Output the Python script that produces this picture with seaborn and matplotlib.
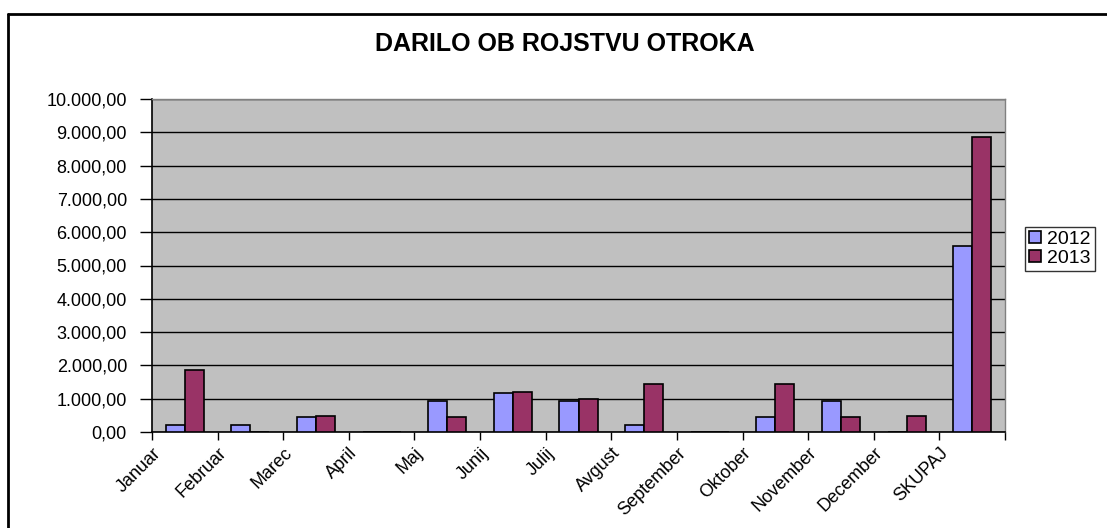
import numpy as np
import pandas as pd
import matplotlib
matplotlib.use("Agg")
import matplotlib.pyplot as plt
import seaborn as sns
from matplotlib.lines import Line2D
from matplotlib.patches import Patch
from matplotlib.ticker import FuncFormatter, MultipleLocator

categories = ["Januar", "Februar", "Marec", "April", "Maj", "Junij", "Julij",
              "Avgust", "September", "Oktober", "November", "December", "SKUPAJ"]
values_2012 = [210, 210, 450, 0, 940, 1170, 940, 210, 0, 450, 940, 0, 5590]
values_2013 = [1870, 0, 480, 0, 460, 1200, 980, 1440, 0, 1440, 460, 480, 8850]
series_names = ["2012", "2013"]
title_text = "DARILO OB ROJSTVU OTROKA"

df = pd.DataFrame({
    "kategorija": categories * 2,
    "vrednost": values_2012 + values_2013,
    "leto": [series_names[0]] * len(categories) + [series_names[1]] * len(categories),
})

sns.set_theme(style="white")
plt.rcParams["font.family"] = ["Liberation Sans", "DejaVu Sans"]
plt.rcParams["text.color"] = "black"
plt.rcParams["xtick.color"] = "black"
plt.rcParams["ytick.color"] = "black"
plt.rcParams["axes.labelcolor"] = "black"

colors = {"2012": "#9999FF", "2013": "#993366"}

fig = plt.figure(figsize=(11.07, 5.28), dpi=100)
fig.patch.set_facecolor("white")
ax = fig.add_axes([152 / 1107, 1 - 432 / 528, (1005 - 152) / 1107, (432 - 99) / 528])
ax.set_facecolor("#C0C0C0")

sns.barplot(data=df, x="kategorija", y="vrednost", hue="leto", order=categories,
            hue_order=series_names, palette=colors, width=0.58, edgecolor="black",
            linewidth=1.2, saturation=1, ax=ax, legend=False, zorder=3)

ax.set_ylim(0, 10000)
ax.set_xlim(-0.5, len(categories) - 0.5)
ax.yaxis.set_major_locator(MultipleLocator(1000))
ax.yaxis.set_major_formatter(FuncFormatter(
    lambda v, p: f"{v:,.2f}".replace(",", "X").replace(".", ",").replace("X", ".")))
ax.grid(axis="y", color="black", linewidth=1.0, zorder=1)
ax.set_axisbelow(True)
ax.set_xlabel("")
ax.set_ylabel("")

ticks = list(np.arange(len(categories)) - 0.5) + [len(categories) - 0.5]
ax.set_xticks(ticks)
ax.set_xticklabels(categories + [""], rotation=45, ha="right",
                   rotation_mode="anchor", fontsize=13)
ax.tick_params(axis="x", direction="out", length=6, width=1, color="black",
               bottom=True, pad=3)
ax.tick_params(axis="y", direction="out", length=9, width=1, color="black",
               left=True, labelsize=13, pad=9)

for s in ["top", "right"]:
    ax.spines[s].set_color("#808080")
    ax.spines[s].set_linewidth(1)
for s in ["left", "bottom"]:
    ax.spines[s].set_color("black")
    ax.spines[s].set_linewidth(1.2)

fig.text(565 / 1107, 1 - 44 / 528, title_text, ha="center", va="center",
         fontsize=18, fontweight="bold")

handles = [Patch(facecolor=colors[n], edgecolor="black", linewidth=1.2) for n in series_names]
leg = fig.legend(handles, series_names, loc="upper left",
                 bbox_to_anchor=(1025 / 1107, 1 - 227 / 528), frameon=True,
                 fontsize=14, handlelength=0.6, handleheight=0.6,
                 handletextpad=0.35, borderpad=0.2, labelspacing=0.1,
                 borderaxespad=0, fancybox=False)
leg.get_frame().set_edgecolor("black")
leg.get_frame().set_linewidth(1)

fig.add_artist(Line2D([8 / 1107, 1.0], [1 - 14 / 528, 1 - 14 / 528],
                      transform=fig.transFigure, color="black", linewidth=2))
fig.add_artist(Line2D([8 / 1107, 8 / 1107], [1 - 14 / 528, 0.0],
                      transform=fig.transFigure, color="black", linewidth=2))

fig.savefig("out.png", dpi=100)
